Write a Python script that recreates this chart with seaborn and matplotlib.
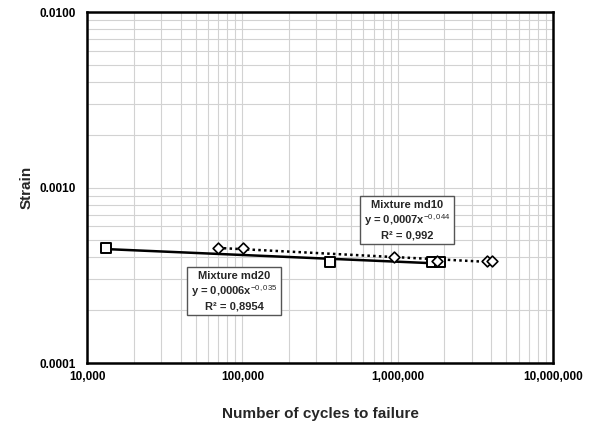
import numpy as np
import pandas as pd
import matplotlib
matplotlib.use("Agg")
import matplotlib.pyplot as plt
from matplotlib.ticker import FuncFormatter, LogLocator, NullFormatter
import seaborn as sns

# Fatigue test results: cycles to failure vs. applied strain
md20_cycles = [13250, 367000, 1660000, 1870000]
md20_strain = [0.000452, 0.000376, 0.000375, 0.000375]

md10_cycles = [69800, 101000, 950000, 1800000, 3770000, 4050000]
md10_strain = [0.000450, 0.000450, 0.000402, 0.000380, 0.000380, 0.000380]

md20_label = ["Mixture md20", "y = 0,0006x$^{\\mathrm{-0,035}}$", "R² = 0,8954"]
md10_label = ["Mixture md10", "y = 0,0007x$^{\\mathrm{-0,044}}$", "R² = 0,992"]

x_ticks = [1e4, 1e5, 1e6, 1e7]
y_ticks = [1e-4, 1e-3, 1e-2]

sns.set_theme(style="white")
plt.rcParams["font.family"] = ["Liberation Sans", "DejaVu Sans"]
plt.rcParams["mathtext.fontset"] = "custom"
plt.rcParams["mathtext.rm"] = "Liberation Sans"
plt.rcParams["mathtext.default"] = "regular"


def power_trend(cycles, strain):
    # least-squares power law fit in log-log space, spanning the data range
    b, log_a = np.polyfit(np.log10(cycles), np.log10(strain), 1)
    xs = np.geomspace(min(cycles), max(cycles), 50)
    return pd.DataFrame({"cycles": xs, "strain": 10 ** log_a * xs ** b})


df20 = pd.DataFrame({"cycles": md20_cycles, "strain": md20_strain})
df10 = pd.DataFrame({"cycles": md10_cycles, "strain": md10_strain})

fig = plt.figure(figsize=(5.9, 4.22), dpi=100)
ax = fig.add_axes([87 / 590, 59 / 422, 466 / 590, 351 / 422])
ax.set_xscale("log")
ax.set_yscale("log")
ax.set_xlim(1e4, 1e7)
ax.set_ylim(1e-4, 1e-2)

# grid: decades plus intermediate lines
ax.xaxis.set_major_locator(LogLocator(base=10, subs=(1.0,)))
ax.xaxis.set_minor_locator(LogLocator(base=10, subs=np.arange(2, 10)))
ax.yaxis.set_major_locator(LogLocator(base=10, subs=(1.0,)))
ax.yaxis.set_minor_locator(LogLocator(base=10, subs=np.arange(2, 10)))
ax.xaxis.set_minor_formatter(NullFormatter())
ax.yaxis.set_minor_formatter(NullFormatter())
ax.grid(True, which="both", color="#d2d2d2", linewidth=0.8)
ax.set_axisbelow(True)

# trend lines
sns.lineplot(data=power_trend(md20_cycles, md20_strain), x="cycles", y="strain",
             ax=ax, color="black", linewidth=1.8, zorder=3)
sns.lineplot(data=power_trend(md10_cycles, md10_strain), x="cycles", y="strain",
             ax=ax, color="black", linewidth=1.8, linestyle=(0, (1, 1.3)), zorder=3)

# measured points
sns.scatterplot(data=df20, x="cycles", y="strain", ax=ax, marker="s", s=55,
                facecolor="white", edgecolor="black", linewidth=1.4, zorder=4)
sns.scatterplot(data=df10, x="cycles", y="strain", ax=ax, marker="D", s=30,
                facecolor="white", edgecolor="black", linewidth=1.2, zorder=4)

ax.xaxis.set_major_formatter(FuncFormatter(lambda v, p: f"{int(round(v)):,}"))
ax.yaxis.set_major_formatter(FuncFormatter(lambda v, p: f"{v:.4f}"))
ax.set_xticks(x_ticks)
ax.set_yticks(y_ticks)
ax.tick_params(axis="both", which="both", length=0, labelsize=8.5, colors="black")
ax.tick_params(axis="x", pad=6)
ax.tick_params(axis="y", pad=8)
for lab in ax.get_xticklabels() + ax.get_yticklabels():
    lab.set_fontweight("bold")

ax.set_xlabel("Number of cycles to failure", fontsize=11, fontweight="bold", labelpad=17)
ax.set_ylabel("Strain", fontsize=11, fontweight="bold", labelpad=4)

for side in ax.spines.values():
    side.set_visible(True)
    side.set_color("black")
    side.set_linewidth(1.8)

box = dict(boxstyle="square,pad=0.35", facecolor="white", edgecolor="#555555", linewidth=1.0)
ax.text((234 - 87) / 466, (363 - 291) / 351, "\n".join(md20_label), transform=ax.transAxes,
        ha="center", va="center", multialignment="center", fontsize=8, fontweight="bold",
        linespacing=1.25, bbox=box, zorder=5)
ax.text((407 - 87) / 466, (363 - 220) / 351, "\n".join(md10_label), transform=ax.transAxes,
        ha="center", va="center", multialignment="center", fontsize=8, fontweight="bold",
        linespacing=1.25, bbox=box, zorder=5)

fig.savefig("out.png", dpi=100)
